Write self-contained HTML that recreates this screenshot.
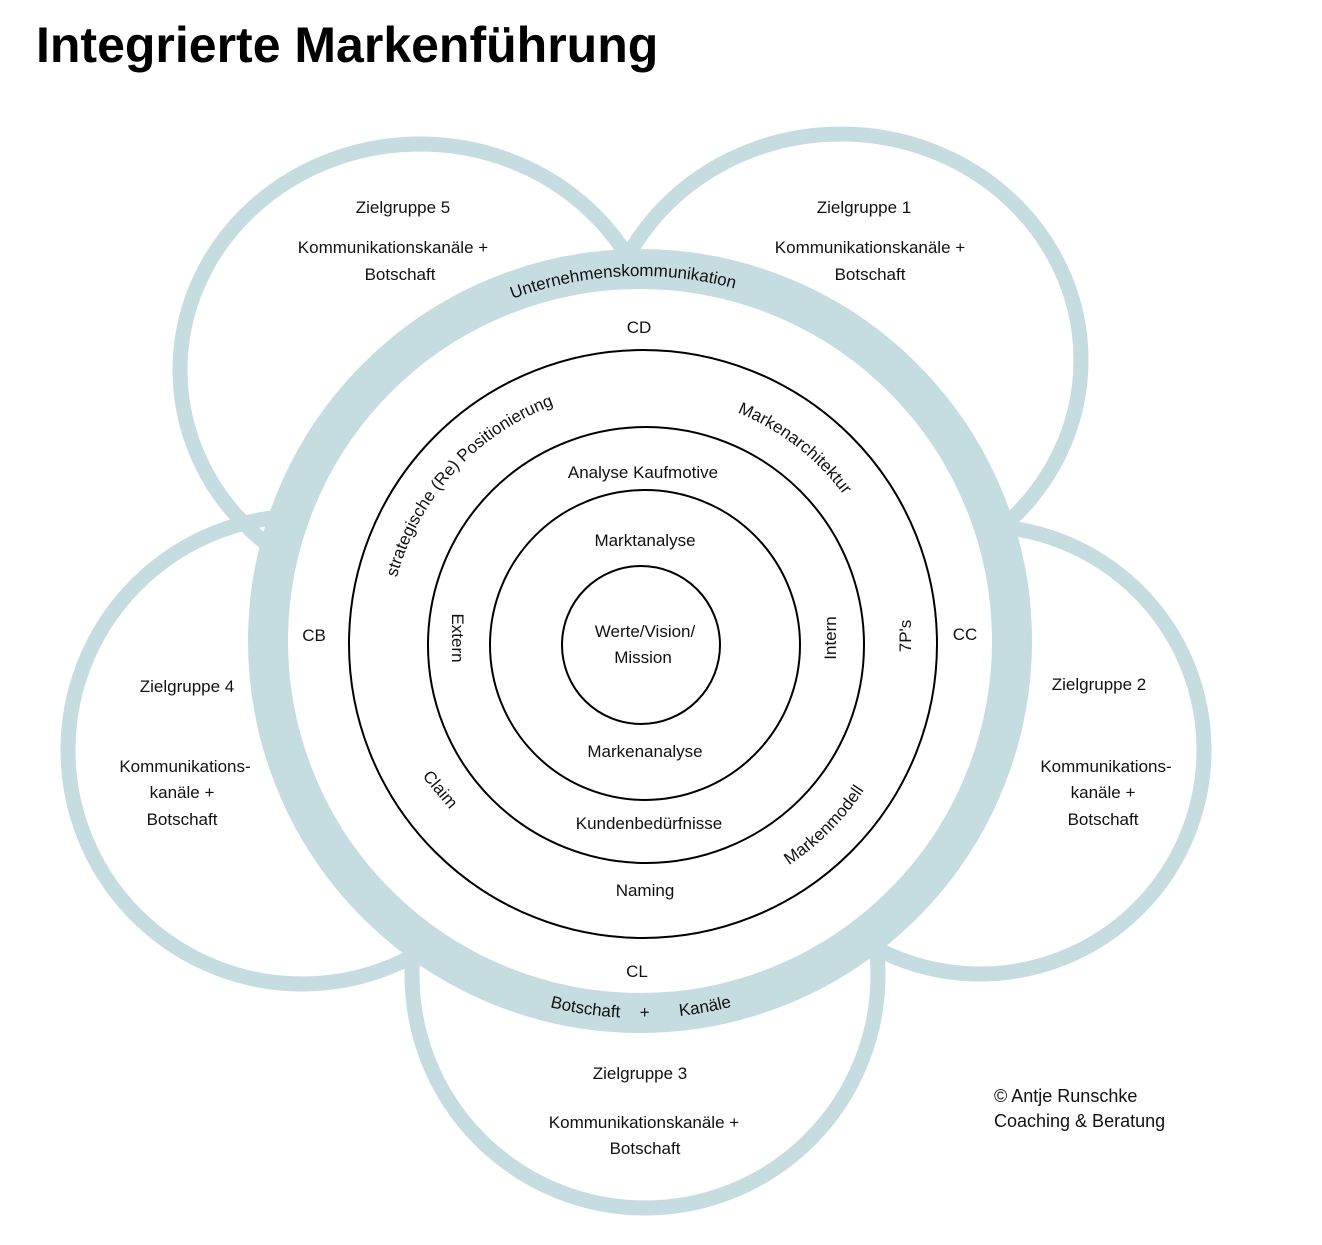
<!DOCTYPE html>
<html><head><meta charset="utf-8"><style>
html,body{margin:0;padding:0;background:#fff;}
svg{display:block;}
text{font-family:"Liberation Sans",sans-serif;fill:#111;}
</style></head><body>
<svg width="1322" height="1245" viewBox="0 0 1322 1245" xmlns="http://www.w3.org/2000/svg">
<defs>
<path id="pTop" d="M 275 641 A 365 365 0 0 1 1005 641"/>
<path id="pBot" d="M 263 641 A 377 377 0 0 0 1017 641"/>
<path id="pStrat" d="M 388 644 A 255 255 0 0 1 898 644"/>
<path id="pArch" d="M 393 644 A 250 250 0 0 1 893 644"/>
<path id="pModell" d="M 378 644 A 265 265 0 0 0 908 644"/>
</defs>
<text x="36" y="62" font-size="50" font-weight="bold" style="fill:#000">Integrierte Markenführung</text>

<g fill="none" stroke="#c5dce0" stroke-width="15">
<ellipse cx="420" cy="370" rx="240" ry="226"/>
<ellipse cx="841" cy="360" rx="240" ry="226"/>
<circle cx="302" cy="750" r="234"/>
<circle cx="980" cy="750" r="224"/>
<circle cx="645" cy="975" r="233"/>
</g>
<circle cx="640" cy="641" r="372" fill="#fff" stroke="#c5dce0" stroke-width="40"/>

<g fill="none" stroke="#000" stroke-width="2">
<circle cx="643" cy="644" r="294"/>
<circle cx="646" cy="645" r="218"/>
<circle cx="645" cy="645" r="155"/>
<circle cx="641" cy="645" r="79"/>
</g>

<g font-size="17" text-anchor="middle">
<text x="403" y="213">Zielgruppe 5</text>
<text x="393" y="253">Kommunikationskanäle +</text>
<text x="400" y="280">Botschaft</text>
<text x="864" y="213">Zielgruppe 1</text>
<text x="870" y="253">Kommunikationskanäle +</text>
<text x="870" y="280">Botschaft</text>
<text x="187" y="692">Zielgruppe 4</text>
<text x="185" y="772">Kommunikations-</text>
<text x="182" y="798">kanäle +</text>
<text x="182" y="825">Botschaft</text>
<text x="1099" y="690">Zielgruppe 2</text>
<text x="1106" y="772">Kommunikations-</text>
<text x="1103" y="798">kanäle +</text>
<text x="1103" y="825">Botschaft</text>
<text x="640" y="1079">Zielgruppe 3</text>
<text x="644" y="1128">Kommunikationskanäle +</text>
<text x="645" y="1154">Botschaft</text>

<text x="639" y="333">CD</text>
<text x="314" y="641">CB</text>
<text x="965" y="640">CC</text>
<text x="637" y="977">CL</text>
<text x="643" y="478">Analyse Kaufmotive</text>
<text x="645" y="546">Marktanalyse</text>
<text x="645" y="637">Werte/Vision/</text>
<text x="643" y="663">Mission</text>
<text x="645" y="757">Markenanalyse</text>
<text x="649" y="829">Kundenbedürfnisse</text>
<text x="645" y="896">Naming</text>
<text transform="translate(452,638) rotate(90)">Extern</text>
<text transform="translate(836,638) rotate(-90)">Intern</text>
<text transform="translate(911,636) rotate(-90)">7P's</text>
<text transform="translate(436,793) rotate(50)">Claim</text>

<text><textPath href="#pTop" startOffset="48.5%">Unternehmenskommunikation</textPath></text>
<text><textPath href="#pStrat" startOffset="23.5%">strategische (Re) Positionierung</textPath></text>
<text><textPath href="#pArch" startOffset="71%">Markenarchitektur</textPath></text>
<text><textPath href="#pModell" startOffset="75%">Markenmodell</textPath></text>
<text><textPath href="#pBot" startOffset="45.3%">Botschaft</textPath></text>
<text><textPath href="#pBot" startOffset="50.4%">+</textPath></text>
<text><textPath href="#pBot" startOffset="55.6%">Kanäle</textPath></text>
</g>
<text x="994" y="1102" font-size="18">© Antje Runschke</text>
<text x="994" y="1127" font-size="18">Coaching &amp; Beratung</text>
</svg>
</body></html>
